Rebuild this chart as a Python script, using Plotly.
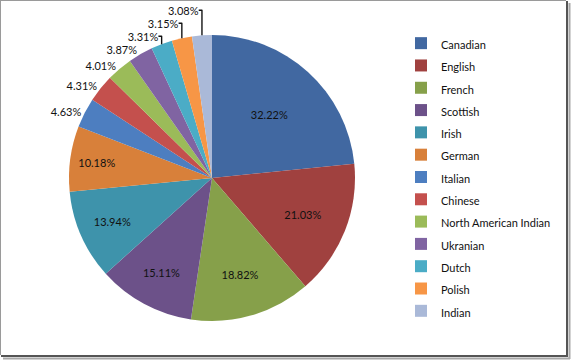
import plotly.graph_objects as go

categories = ["Canadian", "English", "French", "Scottish", "Irish", "German",
              "Italian", "Chinese", "North American Indian", "Ukranian",
              "Dutch", "Polish", "Indian"]
values = [32.22, 21.03, 18.82, 15.11, 13.94, 10.18, 4.63, 4.31, 4.01, 3.87,
          3.31, 3.15, 3.08]
colors = ["#4168A1", "#A0413F", "#86A04A", "#6C5189", "#3E93AB", "#D8803A",
          "#4D7EC0", "#C4504D", "#9BBB59", "#8064A2", "#4BACC6", "#F79646",
          "#AAB9D8"]
positions = ["inside"] * 6 + ["outside"] * 7

W, H = 571, 361
legend_labels = ['<span style="font-size:11px">%s</span>' % c for c in categories]

fig = go.Figure(go.Pie(
    labels=legend_labels,
    values=values,
    text=["%.2f%%" % v for v in values],
    textinfo="text",
    textposition=positions,
    insidetextorientation="horizontal",
    sort=False,
    direction="clockwise",
    rotation=0,
    marker=dict(colors=colors, line=dict(width=0)),
    textfont=dict(family="Lato, Liberation Sans, sans-serif", size=11, color="#111111"),
    domain=dict(x=[(212 - 143) / W, (212 + 143) / W],
                y=[1 - (178 + 143) / H, 1 - (178 - 143) / H]),
    hoverinfo="label+value",
))

def px_x(x):
    return x / W

def px_y(y):
    return 1 - y / H

shapes = [
    dict(type="line", xref="paper", yref="paper", x0=px_x(0), x1=px_x(566), y0=px_y(0.5), y1=px_y(0.5),
         line=dict(color="#9a9a9a", width=1)),
    dict(type="line", xref="paper", yref="paper", x0=px_x(0.5), x1=px_x(0.5), y0=px_y(0), y1=px_y(355),
         line=dict(color="#9a9a9a", width=1)),
    dict(type="line", xref="paper", yref="paper", x0=px_x(567), x1=px_x(567), y0=px_y(1), y1=px_y(357),
         line=dict(color="#555555", width=2)),
    dict(type="line", xref="paper", yref="paper", x0=px_x(569.5), x1=px_x(569.5), y0=px_y(3), y1=px_y(359),
         line=dict(color="#a8a8a8", width=2)),
    dict(type="line", xref="paper", yref="paper", x0=px_x(1), x1=px_x(568), y0=px_y(356), y1=px_y(356),
         line=dict(color="#555555", width=2)),
    dict(type="line", xref="paper", yref="paper", x0=px_x(3), x1=px_x(570), y0=px_y(358.5), y1=px_y(358.5),
         line=dict(color="#a8a8a8", width=2)),
]

fig.update_layout(
    width=W, height=H,
    margin=dict(l=0, r=0, t=0, b=0),
    paper_bgcolor="white",
    plot_bgcolor="white",
    showlegend=True,
    legend=dict(
        x=px_x(401), y=px_y(27), xanchor="left", yanchor="top",
        font=dict(family="Lato, Liberation Sans, sans-serif", size=14.85, color="#111111"),
        bgcolor="rgba(0,0,0,0)",
        traceorder="normal",
    ),
    shapes=shapes,
)

fig.write_html("out.html",
               config={"displayModeBar": False},
               post_script="document.body.style.margin='0';document.body.style.overflow='hidden';")
